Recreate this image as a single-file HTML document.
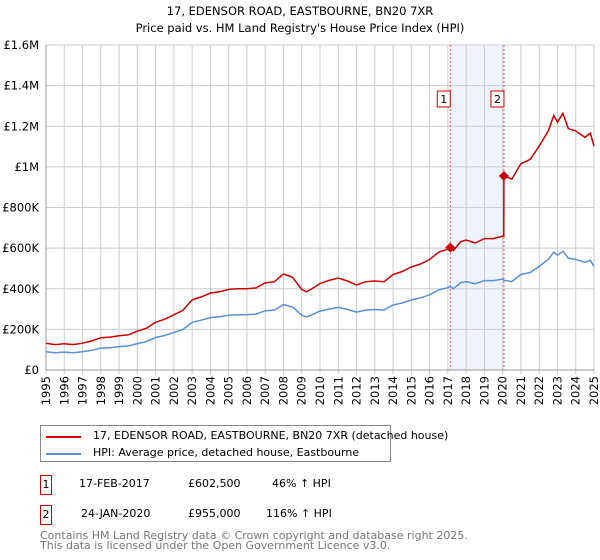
<!DOCTYPE html>
<html><head><meta charset="utf-8"><style>
body{margin:0;background:#fff;font-family:"DejaVu Sans","Liberation Sans",sans-serif;}
#wrap{position:relative;width:600px;height:560px;overflow:hidden}
.t{position:absolute;font-size:11px;color:#000;white-space:nowrap}
svg text{font-family:"DejaVu Sans","Liberation Sans",sans-serif}
</style></head><body><div id="wrap">
<svg id="chart" width="600" height="420" style="position:absolute;left:0;top:0"></svg>
<div style="position:absolute;left:40px;top:425px;width:349px;height:35px;border:1px solid #888;">
 <div style="position:absolute;left:5px;top:3px;height:14px;">
  <span style="position:absolute;left:0;top:7px;width:35px;height:2px;background:#cc0000"></span>
  <span class="t" style="left:47px;top:0;font-size:11px">17, EDENSOR ROAD, EASTBOURNE, BN20 7XR (detached house)</span></div>
 <div style="position:absolute;left:5px;top:20px;height:14px;">
  <span style="position:absolute;left:0;top:7px;width:35px;height:2px;background:#5b8fd6"></span>
  <span class="t" style="left:47px;top:0;font-size:11px">HPI: Average price, detached house, Eastbourne</span></div>
</div>
<div>
 <div style="position:absolute;left:40px;top:475px;width:10px;height:18px;border:1px solid #cc0000;font-size:11px;text-align:center;line-height:18px">1</div>
 <span class="t" style="left:79px;top:477px">17-FEB-2017</span>
 <span class="t" style="left:188px;top:477px">£602,500</span>
 <span class="t" style="left:272px;top:477px">46% ↑ HPI</span>
</div>
<div>
 <div style="position:absolute;left:40px;top:505px;width:10px;height:18px;border:1px solid #cc0000;font-size:11px;text-align:center;line-height:18px">2</div>
 <span class="t" style="left:81px;top:507px">24-JAN-2020</span>
 <span class="t" style="left:188px;top:507px">£955,000</span>
 <span class="t" style="left:266px;top:507px">116% ↑ HPI</span>
</div>
<div class="t" style="left:40px;top:531px;color:#777;font-size:11px;line-height:10px">Contains HM Land Registry data © Crown copyright and database right 2025.<br>This data is licensed under the Open Government Licence v3.0.</div>
</div>
<script>
const years=[1995,1995.5,1996,1996.5,1997,1997.5,1998,1998.5,1999,1999.5,2000,2000.5,2001,2001.5,2002,2002.5,2003,2003.5,2004,2004.5,2005,2005.5,2006,2006.5,2007,2007.5,2008,2008.5,2009,2009.25,2009.5,2010,2010.5,2011,2011.5,2012,2012.5,2013,2013.5,2014,2014.5,2015,2015.5,2016,2016.5,2017,2017.13,2017.3,2017.7,2018,2018.5,2019,2019.5,2020,2020.06,2020.07,2020.5,2021,2021.5,2022,2022.5,2022.8,2023,2023.3,2023.6,2024,2024.5,2024.8,2025];
const hpiValues=[90,85,88,85,90,97,108,110,115,118,130,140,160,170,185,200,235,245,258,262,270,272,272,275,292,295,322,310,270,262,270,290,300,308,298,285,295,298,295,320,330,345,355,370,395,405,412,400,430,435,425,440,440,448,443,442,435,470,480,510,545,580,565,585,550,545,530,540,510];
const priceValues=[132,125,129,125,132,143,159,162,169,173,191,206,235,250,272,294,345,360,379,385,397,400,400,404,429,434,473,456,397,385,397,426,441,453,438,419,434,438,434,470,485,507,522,544,580,595,602.5,588,632,640,625,647,647,659,659,955,940,1015,1037,1102,1177,1253,1220,1264,1188,1177,1145,1166,1102];
const yTicks=[0,200,400,600,800,1000,1200,1400,1600];
const yTickLabels=["£0","£200K","£400K","£600K","£800K","£1M","£1.2M","£1.4M","£1.6M"];
const xTicks=[1995,1996,1997,1998,1999,2000,2001,2002,2003,2004,2005,2006,2007,2008,2009,2010,2011,2012,2013,2014,2015,2016,2017,2018,2019,2020,2021,2022,2023,2024,2025];
const sales=[{label:"1",year:2017.13,value:602.5},{label:"2",year:2020.07,value:955}];
const svg=document.getElementById('chart');const NS="http://www.w3.org/2000/svg";
const X0=46,X1=594,Y0=370,Y1=45;
const xs=y=>X0+(y-1995)/30*(X1-X0);
const ys=v=>Y0-v/1600*(Y0-Y1);
function mk(tag,attrs,parent){const e=document.createElementNS(NS,tag);for(const k in attrs)e.setAttribute(k,attrs[k]);(parent||svg).appendChild(e);return e;}
let e;
e=mk('text',{x:300,y:15,'text-anchor':'middle','font-size':11.5});e.textContent="17, EDENSOR ROAD, EASTBOURNE, BN20 7XR";


e=mk('text',{x:300,y:32,'text-anchor':'middle','font-size':11.5});e.textContent="Price paid vs. HM Land Registry's House Price Index (HPI)";


e=mk('rect',{x:xs(sales[0].year),y:Y1,width:xs(sales[1].year)-xs(sales[0].year),height:Y0-Y1,fill:'#eef3fc'});


yTicks.forEach((t,i)=>{
 e=mk('line',{x1:X0,x2:X1,y1:ys(t),y2:ys(t),stroke:'#ccc','stroke-width':1});
 
 
 e=mk('text',{x:39,y:ys(t)+4,'text-anchor':'end','font-size':11.5});e.textContent=yTickLabels[i];
 
 
});
xTicks.forEach(t=>{
 e=mk('line',{x1:xs(t),x2:xs(t),y1:Y1,y2:Y0+4,stroke:'#ccc','stroke-width':1});
 
 
 e=mk('text',{x:0,y:0,'text-anchor':'end','font-size':11.5,transform:`translate(${xs(t)+4},${Y0+6}) rotate(-90)`});e.textContent=t;
 
 
});
e=mk('line',{x1:X0,x2:X0,y1:Y1,y2:Y0,stroke:'#999'});


e=mk('line',{x1:X0,x2:X1,y1:Y0,y2:Y0,stroke:'#999'});


sales.forEach(s=>{
 e=mk('line',{x1:xs(s.year),x2:xs(s.year),y1:Y1,y2:Y0,stroke:'#e06060','stroke-dasharray':'2,2','stroke-width':1});
 
 
});
const pts=v=>years.map((y,i)=>xs(y).toFixed(1)+','+ys(v[i]).toFixed(1)).join(' ');
e=mk('polyline',{points:pts(hpiValues),fill:'none',stroke:'#5b8fd6','stroke-width':1.5});


e=mk('polyline',{points:pts(priceValues),fill:'none',stroke:'#cc0000','stroke-width':1.5});


sales.forEach(s=>{
 const cx=xs(s.year),cy=ys(s.value);
 e=mk('polygon',{points:`${cx},${cy-5} ${cx+5},${cy} ${cx},${cy+5} ${cx-5},${cy}`,fill:'#cc0000'});
 
 
 e=mk('rect',{x:cx-13,y:91,width:13,height:16,fill:'#fff',stroke:'#cc0000'});
 
 
 e=mk('text',{x:cx-6.5,y:103,'text-anchor':'middle','font-size':11});e.textContent=s.label;
 
 
});
</script></body></html>
